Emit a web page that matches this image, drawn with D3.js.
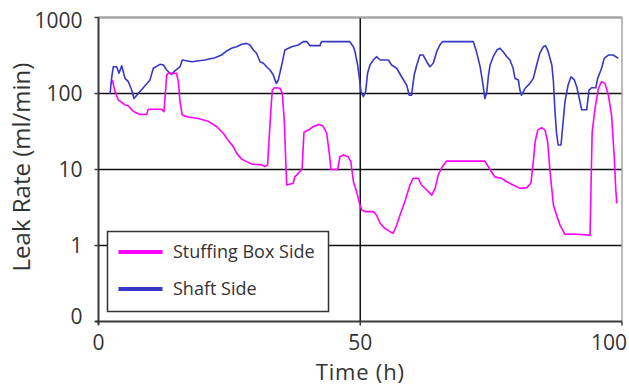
<!DOCTYPE html>
<html>
<head>
<meta charset="utf-8">
<script src="https://cdn.jsdelivr.net/npm/d3@7"></script>
<style>
  html, body { margin: 0; padding: 0; background: #fff; }
  svg text { font-family: "Open Sans", "Noto Sans", sans-serif; fill: #333; }
</style>
</head>
<body>
<svg id="chart" width="629" height="388"></svg>
<script>
// ---- Data (time in hours, leak rate in ml/min) ----
const seriesNames = ["Stuffing Box Side", "Shaft Side"];
const seriesColors = ["#ff00ff", "#3737c8"];

const stuffingTime = [2.64,3.15,3.78,4.43,5.06,5.7,6.34,6.97,7.93,9.2,9.5,12.07,12.5,12.7,13.03,13.3,14.9,15.25,15.57,16.0,16.85,19.06,20.97,22.6,23.84,24.8,25.75,26.4,27.35,28.3,29.27,31.2,31.8,32.3,32.6,32.95,33.2,33.6,34.7,35.1,35.5,35.75,35.95,37.2,37.5,38.5,38.9,39.25,40.1,41.0,42.0,42.9,43.6,44.2,44.4,45.7,46.1,46.8,47.7,48.2,48.7,49.3,49.95,50.3,50.9,52.5,53.1,53.8,54.7,55.7,56.3,56.96,57.6,58.5,59.5,60.1,61.1,61.7,62.7,63.65,64.3,64.9,65.7,66.5,73.8,74.8,75.7,77.0,78.0,79.2,80.5,81.8,82.6,83.06,83.4,83.9,84.66,85.3,85.8,86.25,86.9,87.5,88.15,89.1,90.4,93.9,94.1,94.3,94.85,95.5,96.1,96.75,97.4,98.0,98.5,98.8,99.0];
const stuffingRate = [151,106,82,76.5,70.6,69,61,56.6,53,53,62,62,57.5,86,175,184,184,143,78,52,49.5,47,43,36.5,30,24,20,16.3,13.7,12.7,11.8,11.5,10.9,11.5,25.7,64,111,119,117,101,43,14,6.25,6.6,8.0,9.4,10.4,31,33,36.5,39,37.3,30,14,10,10,14.7,15.5,14.7,12.7,6.9,5.1,3.4,2.93,2.79,2.79,2.52,1.96,1.68,1.52,1.45,1.86,2.52,3.77,6.25,7.66,7.66,6.25,5.37,4.6,5.65,8.5,10.9,12.9,12.9,10,8.0,7.66,6.9,6.25,5.65,5.77,6.6,12.7,23,33,35.5,33,23,9.4,3.4,2.52,1.86,1.4,1.42,1.37,6.9,31,64,117,143,136,95,52,15.5,5.65,3.6];

const shaftTime = [2.2,2.5,2.83,3.47,3.92,4.43,5.06,5.7,6.34,6.78,9.84,10.47,11.75,12.4,13.02,13.85,14.6,15.57,16.0,17.8,20.3,22.25,23.5,24.5,25.4,26.4,27.35,28.3,28.94,29.57,30.2,30.85,31.5,32.1,32.76,33.4,33.7,34.0,34.35,35.0,35.6,36.9,38.2,39.1,39.8,40.4,42.3,42.6,48.0,48.7,49.0,49.5,49.8,50.14,50.58,51.03,51.4,51.86,52.5,53.1,53.8,55.36,56.0,56.96,57.9,58.87,59.37,59.8,60.3,60.8,61.4,62.0,62.7,63.3,63.95,64.6,65.2,65.7,71.6,72.2,72.9,73.5,73.8,74.15,74.5,74.8,75.4,76.1,76.7,77.3,78.0,78.6,79.2,79.56,80.2,80.5,80.8,81.5,82.4,83.06,83.7,84.3,84.97,85.4,85.9,86.6,86.9,87.2,87.5,87.8,88.35,88.7,89.1,89.7,90.26,90.9,91.35,91.85,92.3,93.26,93.7,94.2,95.0,95.35,96.1,96.6,97.4,98.3,99.3];
const shaftRate = [98,158,225,225,185,232,158,143,111,86,151,215,242,237,204,179,198,225,276,262,276,296,321,363,394,413,444,457,435,373,338,262,250,225,204,175,151,136,151,237,373,413,435,481,481,426,426,481,481,413,355,237,166,106,91,106,185,237,276,305,276,276,237,215,166,129,95,95,175,237,321,321,262,225,250,355,435,481,481,355,225,123,86,101,175,237,305,373,394,355,305,276,215,158,151,111,95,117,136,158,237,338,413,426,355,237,143,57.5,30,21,21,38.5,78,129,166,151,123,86,61,61,111,119,119,158,215,290,321,321,290];

const xTicks = [0, 50, 100];
const yTicks = [0.1, 1, 10, 100, 1000];
const yTickLabels = ["0", "1", "10", "100", "1000"];
const xTitle = "Time (h)";
const yTitle = "Leak Rate (ml/min)";

// ---- Layout ----
const svg = d3.select("#chart");
const margin = { left: 98.5, right: 7, top: 17.5, bottom: 66.5 };
const W = 629, H = 388;
const x = d3.scaleLinear().domain([0, 100]).range([margin.left, W - margin.right]);
const y = d3.scaleLog().domain([0.1, 1000]).range([H - margin.bottom, margin.top]);

// Horizontal gridlines
svg.append("g").selectAll("line").data(yTicks.slice(1)).join("line")
  .attr("x1", x(0)).attr("x2", x(100))
  .attr("y1", d => y(d)).attr("y2", d => y(d))
  .attr("stroke", "#111").attr("stroke-width", 1.5);

// Vertical gridline at 50
svg.append("g").selectAll("line").data(xTicks.slice(1, 2)).join("line")
  .attr("x1", d => x(d)).attr("x2", d => x(d))
  .attr("y1", y(1000)).attr("y2", y(0.1))
  .attr("stroke", "#111").attr("stroke-width", 1.5);

// Plot border top/right (gray)
svg.append("path")
  .attr("d", `M${x(0)},${y(1000)}H${x(100)}V${y(0.1)}`)
  .attr("fill", "none").attr("stroke", "#a6a6a6").attr("stroke-width", 1.5);

// Series lines
const line = d3.line().x(d => x(d[0])).y(d => y(d[1]));
const shaftData = shaftTime.map((t, i) => [t, shaftRate[i]]);
const stuffData = stuffingTime.map((t, i) => [t, stuffingRate[i]]);
svg.append("path").datum(shaftData).attr("d", line)
  .attr("fill", "none").attr("stroke", seriesColors[1]).attr("stroke-width", 1.6).attr("stroke-linejoin", "round");
svg.append("path").datum(stuffData).attr("d", line)
  .attr("fill", "none").attr("stroke", seriesColors[0]).attr("stroke-width", 1.6).attr("stroke-linejoin", "round");

// Axes (left & bottom)
svg.append("line").attr("x1", x(0)).attr("x2", x(0)).attr("y1", y(1000)).attr("y2", y(0.1) + 3)
  .attr("stroke", "#3a3a3a").attr("stroke-width", 2);
svg.append("line").attr("x1", x(0) - 3).attr("x2", x(100)).attr("y1", y(0.1)).attr("y2", y(0.1))
  .attr("stroke", "#3a3a3a").attr("stroke-width", 2);
// y tick marks
svg.append("g").selectAll("line").data(yTicks).join("line")
  .attr("x1", x(0) - 4).attr("x2", x(0)).attr("y1", d => y(d)).attr("y2", d => y(d))
  .attr("stroke", "#3a3a3a").attr("stroke-width", 1.5);
// x tick marks
svg.append("g").selectAll("line").data(xTicks).join("line")
  .attr("x1", d => x(d)).attr("x2", d => x(d)).attr("y1", y(0.1)).attr("y2", y(0.1) + 4)
  .attr("stroke", "#3a3a3a").attr("stroke-width", 1.5);

// Y tick labels (kept inside the chart area)
svg.append("g").selectAll("text").data(yTicks).join("text")
  .attr("x", x(0) - 16)
  .attr("y", d => Math.min(Math.max(y(d), y(1000) + 3), y(0.1) - 5))
  .attr("dy", "0.36em")
  .attr("text-anchor", "end")
  .attr("font-size", 21)
  .text((d, i) => yTickLabels[i]);

// X tick labels
svg.append("g").selectAll("text").data(xTicks).join("text")
  .attr("x", d => Math.min(x(d), W - 20))
  .attr("y", y(0.1) + 21)
  .attr("dy", "0.36em")
  .attr("text-anchor", "middle")
  .attr("font-size", 21)
  .text(d => d);

// Axis titles
svg.append("text").attr("x", x(50)).attr("y", 380).attr("text-anchor", "middle")
  .attr("font-size", 22).attr("letter-spacing", 0.8).text(xTitle);
svg.append("text").attr("transform", `translate(30,167) rotate(-90)`).attr("text-anchor", "middle")
  .attr("font-size", 24).text(yTitle);

// Legend
const lg = svg.append("g");
lg.append("rect").attr("x", 107.5).attr("y", 231.5).attr("width", 221).attr("height", 80)
  .attr("fill", "#fff").attr("stroke", "#333").attr("stroke-width", 1.5);
const items = lg.selectAll("g.item").data([0, 1]).join("g").attr("class", "item")
  .attr("transform", (d, i) => `translate(0, ${252 + i * 37})`);
items.append("line").attr("x1", 118.5).attr("x2", 162.5).attr("y1", 0).attr("y2", 0)
  .attr("stroke", d => seriesColors[d]).attr("stroke-width", 4);
items.append("text").attr("x", 173).attr("y", 0).attr("dy", "0.35em")
  .attr("font-size", 18).text(d => seriesNames[d]);
</script>
</body>
</html>
